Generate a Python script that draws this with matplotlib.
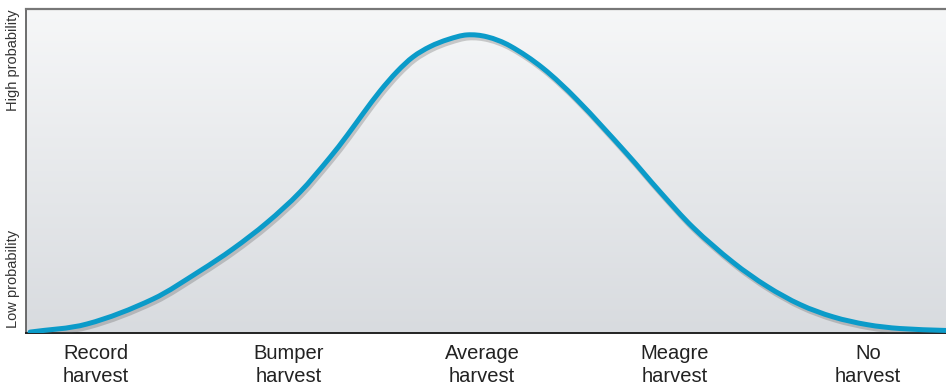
import numpy as np
import matplotlib
matplotlib.use("Agg")
import matplotlib.pyplot as plt
import matplotlib.patheffects as pe
from matplotlib.colors import LinearSegmentedColormap
from matplotlib.path import Path
from matplotlib.patches import PathPatch

plt.rcParams["font.family"] = ["Liberation Sans", "DejaVu Sans"]

categories = ["Record\nharvest", "Bumper\nharvest", "Average\nharvest", "Meagre\nharvest", "No\nharvest"]
y_labels = ["Low probability", "High probability"]
y_label_pos = [0.167, 0.843]

curve_x = [-0.342, -0.047, 0.295, 0.539, 0.710, 0.886, 1.057, 1.212, 1.301, 1.383,
           1.472, 1.560, 1.642, 1.731, 1.824, 1.922, 2.026, 2.145, 2.316, 2.492,
           2.751, 2.922, 3.093, 3.301, 3.477, 3.648, 3.819, 3.995, 4.166, 4.404]
curve_y = [0.003, 0.028, 0.105, 0.192, 0.260, 0.341, 0.435, 0.542, 0.610, 0.677,
           0.747, 0.807, 0.852, 0.884, 0.906, 0.920, 0.914, 0.886, 0.817, 0.720,
           0.553, 0.436, 0.326, 0.218, 0.144, 0.088, 0.050, 0.026, 0.014, 0.008]


def smooth_path(xs, ys):
    x = np.asarray(xs, float)
    y = np.asarray(ys, float)
    n = len(x)
    m = np.empty(n)
    m[0] = (y[1] - y[0]) / (x[1] - x[0])
    m[-1] = (y[-1] - y[-2]) / (x[-1] - x[-2])
    m[1:-1] = (y[2:] - y[:-2]) / (x[2:] - x[:-2])
    verts = [(x[0], y[0])]
    codes = [Path.MOVETO]
    for i in range(n - 1):
        h = x[i + 1] - x[i]
        verts += [(x[i] + h / 3, y[i] + m[i] * h / 3),
                  (x[i + 1] - h / 3, y[i + 1] - m[i + 1] * h / 3),
                  (x[i + 1], y[i + 1])]
        codes += [Path.CURVE4] * 3
    return Path(verts, codes)


fig = plt.figure(figsize=(9.46, 3.9), dpi=100)
ax = fig.add_axes([0.0275, 0.146, 0.9725, 0.831])
ax.set_xlim(-0.363, 4.404)
ax.set_ylim(0, 1)

cmap = LinearSegmentedColormap.from_list("bg", ["#d8dbdf", "#f6f7f8"])
grad = np.linspace(0, 1, 256).reshape(-1, 1)
ax.imshow(grad, extent=[0, 1, 0, 1], transform=ax.transAxes, origin="lower",
          aspect="auto", cmap=cmap, zorder=0)

patch = PathPatch(smooth_path(curve_x, curve_y), facecolor="none", edgecolor="#0b9bc9",
                  lw=3.6, capstyle="round", joinstyle="round", zorder=3,
                  path_effects=[pe.SimpleLineShadow(offset=(1.2, -2.2), shadow_color="#555555", alpha=0.28),
                                pe.Normal()])
ax.add_patch(patch)

ax.set_xticks(range(len(categories)))
ax.set_xticklabels(categories, fontsize=14.5, color="#222222", linespacing=1.25)
ax.set_yticks(y_label_pos)
ax.set_yticklabels(y_labels, rotation=90, va="center", fontsize=10.5, color="#333333")
ax.tick_params(axis="both", length=0)
ax.tick_params(axis="x", pad=8)
ax.tick_params(axis="y", pad=4)

ax.spines["right"].set_visible(False)
ax.spines["top"].set_color("#777777")
ax.spines["top"].set_linewidth(1.6)
ax.spines["left"].set_color("#555555")
ax.spines["left"].set_linewidth(1.2)
ax.spines["bottom"].set_color("#222222")
ax.spines["bottom"].set_linewidth(1.4)

fig.savefig("out.png", dpi=100)
